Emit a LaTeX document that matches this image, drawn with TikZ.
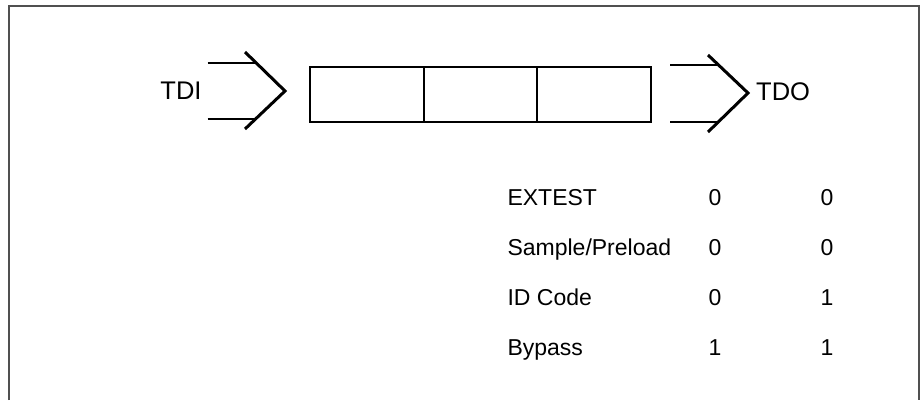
\documentclass[tikz,border=0pt]{standalone}
\usepackage{fontspec}
\setmainfont{Liberation Sans}
\usetikzlibrary{positioning}
\definecolor{jtframe}{RGB}{80,80,80}

\begin{document}
\begin{tikzpicture}[x=1pt,y=-1pt,font=\fontsize{23}{27}\selectfont,
    cell/.style={draw,line width=2pt,minimum width=113.7pt,minimum height=55pt,outer sep=0pt,inner sep=0pt},
    sig/.style={font=\fontsize{25.5}{30}\selectfont,inner sep=0pt},
    chev/.style={line width=3pt},
    bus/.style={line width=2.2pt}]
    \useasboundingbox (0,0) rectangle (922,400);
    \draw[jtframe,line width=2pt] (8.5,400) |- (919,5.5) -- (919,400);
    % instruction register cells
    \node[cell] (ir1) at (366.8,94.5) {};
    \node[cell,right=0pt of ir1] (ir2) {};
    \node[cell,right=0pt of ir2] (ir3) {};
    \node[sig] (tdi) at (181,91) {TDI};
    \node[sig,anchor=west] (tdo) at (756,92) {TDO};
    % input and output chevrons
    \coordinate (inTop) at (245,52);
    \coordinate (inTip) at (285,91);
    \coordinate (inBot) at (245,129);
    \coordinate (outTop) at (708,55);
    \coordinate (outTip) at (748,93);
    \coordinate (outBot) at (708,132);
    \draw[bus] ([xshift=6pt,yshift=28pt]tdi.east) -- ++(49,0);
    \draw[bus] ([xshift=6pt,yshift=-28pt]tdi.east) -- ++(49,0);
    \draw[chev] (inTop) -- (inTip) -- (inBot);
    \draw[bus] ([xshift=19pt,yshift=29.5pt]ir3.east) -- ++(49,0);
    \draw[bus] ([xshift=19pt,yshift=-27.5pt]ir3.east) -- ++(49,0);
    \draw[chev] (outTop) -- (outTip) -- (outBot);
    % instruction codes
    \node[anchor=base west] (ex) at (504,205) {EXTEST};
    \node[anchor=base] (exa) at (715,205) {0};
    \node[anchor=base] (exb) at (827,205) {0};
    \node[anchor=base west] (sp) at (504,255) {Sample/Preload};
    \node[anchor=base] (spa) at (715,255) {0};
    \node[anchor=base] (spb) at (827,255) {0};
    \node[anchor=base west] (id) at (504,305) {ID Code};
    \node[anchor=base] (ida) at (715,305) {0};
    \node[anchor=base] (idb) at (827,305) {1};
    \node[anchor=base west] (by) at (504,355) {Bypass};
    \node[anchor=base] (bya) at (715,355) {1};
    \node[anchor=base] (byb) at (827,355) {1};
  \end{tikzpicture}
\end{document}
